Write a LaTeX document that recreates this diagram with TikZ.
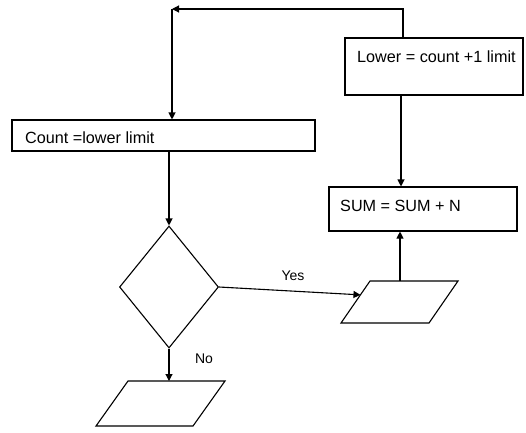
\documentclass[tikz,border=0pt]{standalone}
\usepackage{fontspec}
\setmainfont{Liberation Sans}
\usetikzlibrary{shapes.geometric,arrows.meta,calc}
\begin{document}
\begin{tikzpicture}[x=1pt,y=-1pt,
  box/.style={draw, line width=1.1pt, inner sep=0pt},
  txt/.style={font=\fontsize{16.2}{19}\selectfont, anchor=west, inner sep=0pt},
  lbl/.style={font=\fontsize{14}{16}\selectfont, inner sep=0pt},
  shapeline/.style={draw, line width=1.1pt, line join=miter},
  arr/.style={line width=1.1pt, -{Triangle[length=7pt,width=7pt]}},
  decision/.style={diamond, draw, line width=1.1pt, inner sep=0pt}]
\useasboundingbox (0,0) rectangle (526,432);

% process boxes
\node[box, minimum width=303pt, minimum height=31pt] (init) at (163.5,135.5) {};
\node[txt] (initt) at (25,138) {Count =lower limit};
\node[box, minimum width=178pt, minimum height=57pt] (upd) at (434,66.5) {};
\node[txt] (updt) at (357,57) {Lower = count +1 limit};
\node[box, minimum width=188pt, minimum height=44pt] (sum) at (423,209) {};
\node[txt] (sumt) at (340,206) {SUM = SUM + N};

% decision
\node[decision, minimum width=99pt, minimum height=122pt] (dec) at (169,287) {};

% input parallelogram (right)
\coordinate (itl) at (370,281);
\coordinate (itr) at (458,281);
\coordinate (ibr) at (429,323);
\coordinate (ibl) at (341,323);
\draw[shapeline] (itl) -- (itr) -- (ibr) -- (ibl) -- cycle;
\coordinate (itop) at (400,281);
\coordinate (ileft) at ($(itl)!0.33!(ibl)$);

% output parallelogram (bottom)
\coordinate (otl) at (128,381);
\coordinate (otr) at (225,381);
\coordinate (obr) at (193,426);
\coordinate (obl) at (96,426);
\draw[shapeline] (otl) -- (otr) -- (obr) -- (obl) -- cycle;

% helper coordinates
\coordinate (tr) at (403,9);
\coordinate (tl) at (172,9);
\coordinate (vx) at (401,0);

% connectors
\draw[arr] (upd.north -| tr) -- (tr) -- (tl);
\draw[arr] (tl) -- (init.north -| tl);
\draw[arr] (upd.south -| vx) -- (sum.north -| vx);
\draw[arr] (init.south -| dec.north) -- (dec.north);
\draw[arr] (dec.east) -- (ileft);
\draw[arr] (itop) -- (itop |- sum.south);
\draw[arr] (dec.south) -- (dec.south |- otl);

% labels
\node[lbl] (yes) at (293,276) {Yes};
\node[lbl] (no) at (204,359) {No};
\end{tikzpicture}
\end{document}
